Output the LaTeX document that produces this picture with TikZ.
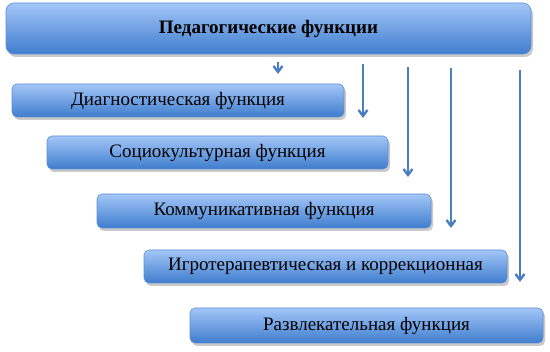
\documentclass[tikz,border=0pt]{standalone}
\usepackage{fontspec}
\setmainfont{Liberation Serif}
\usetikzlibrary{arrows.meta,shadows}
\definecolor{boxtop}{HTML}{A3C6F8}
\definecolor{boxbottom}{HTML}{3F7DCD}
\definecolor{boxline}{HTML}{5B8ED6}
\definecolor{arrowblue}{HTML}{4A7EBF}

\begin{document}
\begin{tikzpicture}[
  x=1pt,
  y=-1pt,
  every node/.style={font=\fontsize{19}{20}\selectfont, black},
  fbox/.style={rectangle, rounded corners=5pt, draw=boxline, line width=0.6pt,
               top color=boxtop, bottom color=boxbottom,
               anchor=north west, inner sep=0pt, outer sep=0pt,
               drop shadow={shadow xshift=2pt, shadow yshift=-3pt,
                            opacity=0.35, fill=black!60}},
  link/.style={arrowblue, line width=2.4pt,
               -{Straight Barb[length=6pt, width=9pt]}}
]
  \useasboundingbox (0,0) rectangle (550,352);

  % ---- title --------------------------------------------------------------
  \node[fbox, rounded corners=8pt, minimum width=525pt, minimum height=51pt,
        font=\fontsize{19}{20}\selectfont\bfseries]
    (ped) at (6,3) {Педагогические функции};

  % ---- the five functions, stepping to the right --------------------------
  \node[fbox, minimum width=332pt, minimum height=33pt] (diag) at (12,84)
    {Диагностическая функция};
  \node[fbox, minimum width=341pt, minimum height=33pt] (soc) at (47,136)
    {Социокультурная функция};
  \node[fbox, minimum width=334pt, minimum height=34pt] (komm) at (97,194)
    {Коммуникативная функция};
  \node[fbox, minimum width=363pt, minimum height=33pt] (igro) at (144,250)
    {Игротерапевтическая и коррекционная};
  \node[fbox, minimum width=353pt, minimum height=35pt] (razv) at (190,308)
    {Развлекательная функция};

  % ---- arrows -------------------------------------------------------------
  \coordinate (a0) at (278,62);   \coordinate (a1) at (278,74);
  \coordinate (b0) at (363,64);   \coordinate (b1) at (363,118);
  \coordinate (c0) at (408,67);   \coordinate (c1) at (408,177);
  \coordinate (d0) at (451,68);   \coordinate (d1) at (451,228);
  \coordinate (e0) at (520,70);   \coordinate (e1) at (520,282);
  \draw[link] (a0) -- (a1);
  \draw[link] (b0) -- (b1);
  \draw[link] (c0) -- (c1);
  \draw[link] (d0) -- (d1);
  \draw[link] (e0) -- (e1);

\end{tikzpicture}
\end{document}
